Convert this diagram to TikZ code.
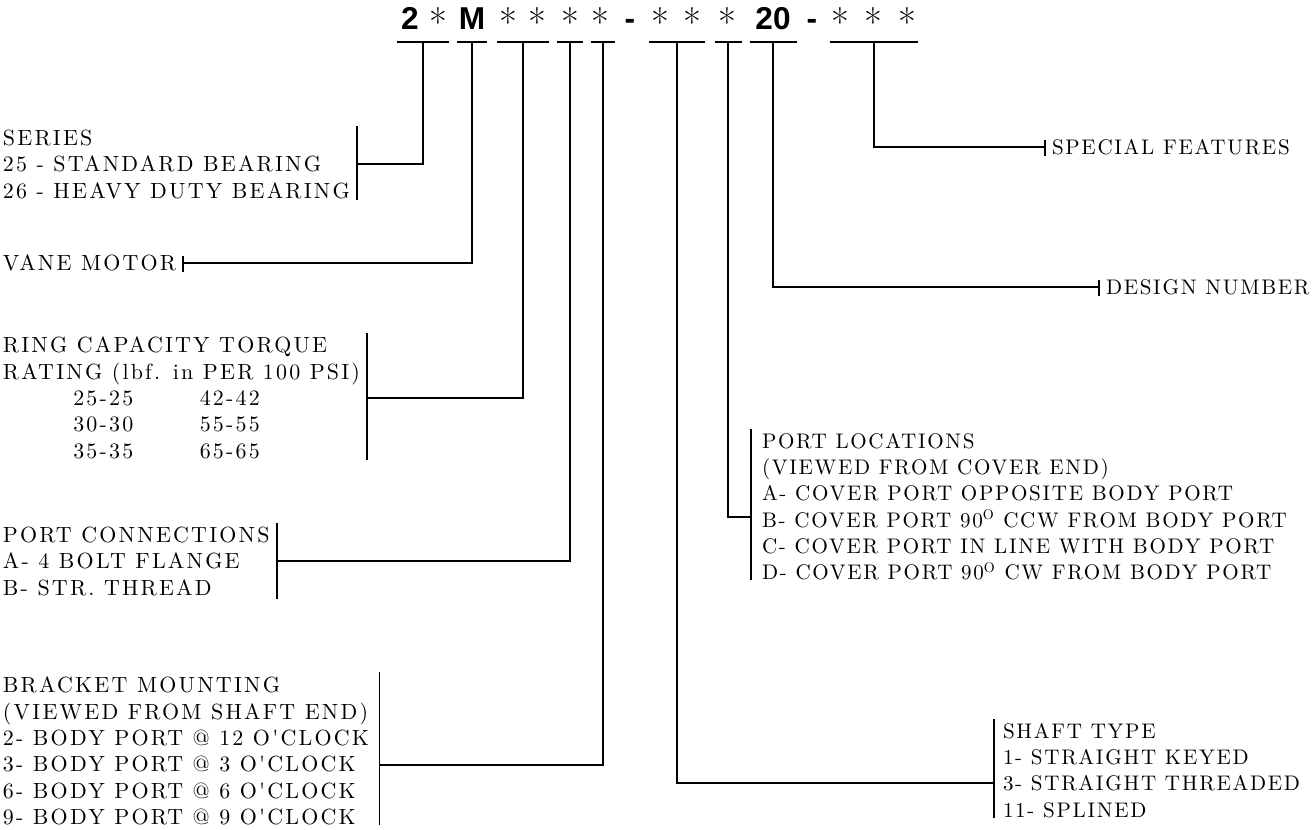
\documentclass[tikz,border=0pt]{standalone}
\usepackage{fontspec}
\setsansfont{Liberation Sans}
\newfontfamily\legendfont{lmroman10-regular.otf}[LetterSpace=10]
\newfontfamily\notefont{lmroman10-regular.otf}[LetterSpace=8]
\begin{document}
\begin{tikzpicture}[x=0.02cm, y=-0.02cm, line width=1.1pt,
    every node/.style={inner sep=0pt, outer sep=0pt},
    code/.style={font=\sffamily\bfseries\fontsize{18}{18}\selectfont, anchor=base},
    wild/.style={font=\fontsize{22}{22}\selectfont, anchor=base},
    legend/.style={align=left, anchor=north west, font=\legendfont\fontsize{12.5}{15}\selectfont},
    note/.style={align=left, anchor=north west, font=\notefont\fontsize{12}{15}\selectfont},
    bar/.style={minimum height=0pt}]
    \useasboundingbox (0,0) rectangle (1316,830);

    % Model code
    \node[code] (c1) at (410,30) {2};
    \node[wild] (c2) at (438,37) {*};
    \node[code] (c3) at (472,30) {M};
    \node[wild] (c4) at (508,37) {*};
    \node[wild] (c5) at (537,37) {*};
    \node[wild] (c6) at (570,37) {*};
    \node[wild] (c7) at (600,37) {*};
    \node[code] (c8) at (630,30) {-};
    \node[wild] (c9) at (660,37) {*};
    \node[wild] (c10) at (692,37) {*};
    \node[wild] (c11) at (727,37) {*};
    \node[code] (c12) at (773,30) {20};
    \node[code] (c13) at (812,30) {-};
    \node[wild] (c14) at (840,37) {*};
    \node[wild] (c15) at (873,37) {*};
    \node[wild] (c16) at (907,37) {*};

    % Field bars
    \node[bar, minimum width=1.06cm] (b-series) at (423,42) {};
    \node[bar, minimum width=0.6cm] (b-vane) at (472,42) {};
    \node[bar, minimum width=1.04cm] (b-ring) at (523,42) {};
    \node[bar, minimum width=0.52cm] (b-conn) at (570,42) {};
    \node[bar, minimum width=0.48cm] (b-mount) at (603,42) {};
    \node[bar, minimum width=1.12cm] (b-shaft) at (677,42) {};
    \node[bar, minimum width=0.54cm] (b-ports) at (728,42) {};
    \node[bar, minimum width=0.94cm] (b-design) at (773,42) {};
    \node[bar, minimum width=1.76cm] (b-extras) at (874,42) {};
    \foreach \b in {series,vane,ring,conn,mount,shaft,ports,design,extras}
        \draw[line width=1.6pt] (b-\b.west) -- (b-\b.east);

    % Left legends
    \node[legend] (series) at (3,130) {SERIES\\25 - STANDARD BEARING\\26 - HEAVY DUTY BEARING};
    \node[legend, anchor=west] (vane) at (3,263) {VANE MOTOR};
    \node[legend] (ring) at (3,337) {RING CAPACITY TORQUE\\RATING (lbf. in PER 100 PSI)\\
        \hspace*{40pt}\makebox[72pt][l]{25-25}42-42\\
        \hspace*{40pt}\makebox[72pt][l]{30-30}55-55\\
        \hspace*{40pt}\makebox[72pt][l]{35-35}65-65};
    \node[legend] (conn) at (3,527) {PORT CONNECTIONS\\A- 4 BOLT FLANGE\\B- STR. THREAD};
    \node[legend] (mount) at (3,677) {BRACKET MOUNTING\\(VIEWED FROM SHAFT END)\\2- BODY PORT @ 12 O'CLOCK\\
        3- BODY PORT @ 3 O'CLOCK\\6- BODY PORT @ 6 O'CLOCK\\9- BODY PORT @ 9 O'CLOCK};

    % Right legends
    \node[note, anchor=west] (extras) at (1052,147) {SPECIAL FEATURES};
    \node[note, anchor=west] (design) at (1106,287) {DESIGN NUMBER};
    \node[note] (ports) at (762,433) {PORT LOCATIONS\\(VIEWED FROM COVER END)\\A- COVER PORT OPPOSITE BODY PORT\\
        B- COVER PORT 90\textsuperscript{O} CCW FROM BODY PORT\\C- COVER PORT IN LINE WITH BODY PORT\\
        D- COVER PORT 90\textsuperscript{O} CW FROM BODY PORT};
    \node[note] (shaft) at (1003,723) {SHAFT TYPE\\1- STRAIGHT KEYED\\3- STRAIGHT THREADED\\11- SPLINED};

    % Brackets
    \draw ([xshift=4pt,yshift=2pt]series.north east) -- ([xshift=4pt,yshift=-1pt]series.south east);
    \draw ([xshift=4pt,yshift=2pt]ring.north east) -- ([xshift=4pt,yshift=-1pt]ring.south east);
    \draw ([xshift=4pt,yshift=2pt]conn.north east) -- ([xshift=4pt,yshift=-2pt]conn.south east);
    \draw ([xshift=6pt,yshift=3pt]mount.north east) -- ([xshift=6pt]mount.south east);
    \draw ([xshift=4pt,yshift=4pt]vane.east) -- ([xshift=4pt,yshift=-5pt]vane.east);
    \draw ([xshift=-4pt,yshift=4pt]extras.west) -- ([xshift=-4pt,yshift=-5pt]extras.west);
    \draw ([xshift=-4pt,yshift=4pt]design.west) -- ([xshift=-4pt,yshift=-5pt]design.west);
    \draw ([xshift=-6pt,yshift=2pt]ports.north west) -- ([xshift=-6pt]ports.south west);
    \draw ([xshift=-5pt,yshift=2pt]shaft.north west) -- ([xshift=-5pt]shaft.south west);
    \coordinate (k-series) at ([xshift=4pt]series.east);
    \coordinate (k-vane) at ([xshift=4pt]vane.east);
    \coordinate (k-ring) at ([xshift=4pt]ring.east);
    \coordinate (k-conn) at ([xshift=4pt]conn.east);
    \coordinate (k-mount) at ([xshift=6pt,yshift=-8pt]mount.east);
    \coordinate (k-extras) at ([xshift=-4pt]extras.west);
    \coordinate (k-design) at ([xshift=-4pt]design.west);
    \coordinate (k-ports) at ([xshift=-6pt,yshift=-6pt]ports.west);
    \coordinate (k-shaft) at ([xshift=-5pt,yshift=-7pt]shaft.west);

    % Leaders
    \foreach \b in {series,vane,ring,conn,mount,shaft,ports,design,extras}
        \draw (b-\b) |- (k-\b);
\end{tikzpicture}
\end{document}
